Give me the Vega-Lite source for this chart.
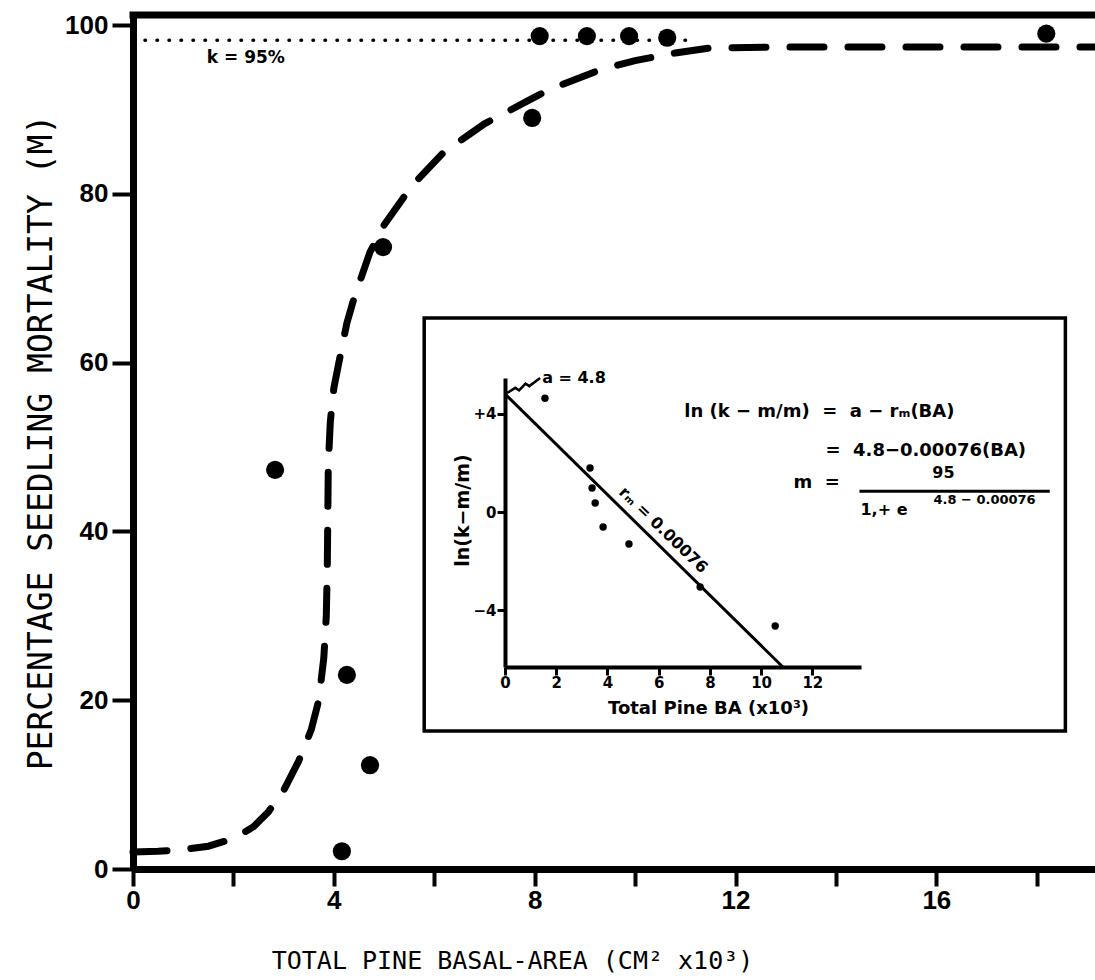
{
  "$schema": "https://vega.github.io/schema/vega-lite/v6.json",
  "width": 962,
  "height": 854,
  "autosize": {"type": "none"},
  "padding": {"left": 133, "top": 15, "right": 0, "bottom": 111},
  "background": "white",
  "config": {
    "view": {"stroke": null},
    "axis": {"grid": false, "domainColor": "black", "tickColor": "black", "labelColor": "black", "titleColor": "black"}
  },
  "resolve": {"scale": {"x": "independent", "y": "independent"}, "axis": {"x": "independent", "y": "independent"}},
  "layer": [
    {
      "layer": [
        {
          "data": {"values": [{"x": 0, "x2": 19.16, "y": 101.2}]},
          "mark": {"type": "rule", "strokeWidth": 7, "color": "black", "strokeCap": "square"},
          "encoding": {
            "x": {
              "field": "x", "type": "quantitative",
              "scale": {"domain": [0, 19.16], "nice": false, "zero": false},
              "axis": {
                "values": [0, 2, 4, 6, 8, 10, 12, 14, 16, 18],
                "labelExpr": "datum.value % 4 === 0 ? datum.label : ''",
                "tickSize": 17, "tickWidth": 4, "domainWidth": 7,
                "labelFont": "Liberation Sans", "labelFontSize": 26, "labelFontWeight": "bold",
                "labelPadding": 1, "labelFlush": false, "labelOverlap": false,
                "title": "TOTAL PINE BASAL-AREA (CM² x10³)",
                "titleFont": "DejaVu Sans Mono", "titleFontSize": 25, "titleFontWeight": "normal",
                "titleX": 379, "titleY": 99, "titleBaseline": "alphabetic", "titleAlign": "center"
              }
            },
            "x2": {"field": "x2"},
            "y": {
              "field": "y", "type": "quantitative",
              "scale": {"domain": [0, 101.2], "nice": false, "zero": false},
              "axis": {
                "values": [0, 20, 40, 60, 80, 100],
                "tickSize": 21, "tickWidth": 4, "domainWidth": 7,
                "labelFont": "Liberation Sans", "labelFontSize": 26, "labelFontWeight": "bold",
                "labelPadding": 4, "labelFlush": false, "labelOverlap": false,
                "title": "PERCENTAGE SEEDLING MORTALITY (M)",
                "titleFont": "DejaVu Sans Mono", "titleFontSize": 33, "titleFontWeight": "normal",
                "titleX": -92, "titleY": 427, "titleBaseline": "middle", "titleAlign": "center"
              }
            }
          }
        },
        {
          "data": {"values": [{"x": 0, "x2": 11.2, "y": 98.2}]},
          "mark": {"type": "rule", "strokeWidth": 3.5, "color": "black", "strokeDash": [0.5, 11.5], "strokeCap": "round"},
          "encoding": {
            "x": {"field": "x", "type": "quantitative"},
            "x2": {"field": "x2"},
            "y": {"field": "y", "type": "quantitative"}
          }
        },
        {
          "data": {"values": [
            {"x": 0.0, "y": 2.0}, {"x": 0.5, "y": 2.1}, {"x": 1.0, "y": 2.3}, {"x": 1.5, "y": 2.7},
            {"x": 2.0, "y": 3.6}, {"x": 2.4, "y": 5.0}, {"x": 2.7, "y": 6.8}, {"x": 3.0, "y": 9.3},
            {"x": 3.3, "y": 12.8}, {"x": 3.55, "y": 16.5}, {"x": 3.7, "y": 20.0}, {"x": 3.8, "y": 25.0},
            {"x": 3.85, "y": 30.0}, {"x": 3.87, "y": 36.0}, {"x": 3.88, "y": 42.0}, {"x": 3.89, "y": 48.0},
            {"x": 3.93, "y": 53.0}, {"x": 4.0, "y": 57.0}, {"x": 4.1, "y": 60.0}, {"x": 4.26, "y": 64.7},
            {"x": 4.4, "y": 67.6}, {"x": 4.72, "y": 73.1}, {"x": 5.0, "y": 76.3}, {"x": 5.56, "y": 81.0},
            {"x": 6.2, "y": 85.0}, {"x": 7.0, "y": 88.3}, {"x": 7.85, "y": 91.0}, {"x": 8.3, "y": 92.4},
            {"x": 9.3, "y": 94.7}, {"x": 10.0, "y": 95.8}, {"x": 10.8, "y": 96.7}, {"x": 11.5, "y": 97.3},
            {"x": 13.0, "y": 97.4}, {"x": 16.0, "y": 97.4}, {"x": 19.16, "y": 97.4}
          ]},
          "mark": {"type": "line", "strokeWidth": 7, "color": "black", "strokeDash": [34, 24], "strokeCap": "round"},
          "encoding": {
            "x": {"field": "x", "type": "quantitative"},
            "y": {"field": "y", "type": "quantitative"}
          }
        },
        {
          "data": {"values": [
            {"x": 2.83, "y": 47.3}, {"x": 4.16, "y": 2.1}, {"x": 4.26, "y": 23.0}, {"x": 4.72, "y": 12.3},
            {"x": 4.98, "y": 73.7}, {"x": 7.95, "y": 89.0}, {"x": 8.1, "y": 98.7}, {"x": 9.04, "y": 98.7},
            {"x": 9.88, "y": 98.7}, {"x": 10.64, "y": 98.5}, {"x": 18.19, "y": 99.0}
          ]},
          "mark": {"type": "point", "filled": true, "size": 330, "color": "black", "opacity": 1},
          "encoding": {
            "x": {"field": "x", "type": "quantitative"},
            "y": {"field": "y", "type": "quantitative"}
          }
        },
        {
          "data": {"values": [{"x": 1.47, "y": 96.1, "label": "k = 95%"}]},
          "mark": {"type": "text", "font": "DejaVu Sans", "fontWeight": "bold", "fontSize": 17, "align": "left", "baseline": "middle", "color": "black"},
          "encoding": {
            "x": {"field": "x", "type": "quantitative"},
            "y": {"field": "y", "type": "quantitative"},
            "text": {"field": "label"}
          }
        },
        {
          "data": {"values": [{"x": 5.8, "x2": 18.57, "y": 65.3, "y2": 16.35}]},
          "mark": {"type": "rect", "fill": "white", "stroke": "black", "strokeWidth": 3.5},
          "encoding": {
            "x": {"field": "x", "type": "quantitative"},
            "x2": {"field": "x2"},
            "y": {"field": "y", "type": "quantitative"},
            "y2": {"field": "y2"}
          }
        }
      ]
    },
    {
      "layer": [
        {
          "data": {"values": [{"x": 0, "y": 4.8, "x2": 10.85, "y2": -6.3}]},
          "mark": {"type": "rule", "strokeWidth": 3, "color": "black"},
          "encoding": {
            "x": {
              "field": "x", "type": "quantitative",
              "scale": {"domain": [0, 13.9], "range": [372, 728], "nice": false, "zero": false},
              "axis": {
                "orient": "bottom", "offset": -202, "zindex": 2,
                "values": [0, 2, 4, 6, 8, 10, 12], "format": "d",
                "tickSize": 8, "tickWidth": 3, "domainWidth": 4,
                "labelFont": "DejaVu Sans", "labelFontSize": 15, "labelFontWeight": "bold",
                "labelPadding": 0, "labelFlush": false, "labelOverlap": false,
                "title": "Total  Pine  BA (x10³)",
                "titleFont": "DejaVu Sans", "titleFontSize": 18, "titleFontWeight": "bold",
                "titleX": 575, "titleY": 41, "titleBaseline": "middle", "titleAlign": "center"
              }
            },
            "x2": {"field": "x2"},
            "y": {
              "field": "y", "type": "quantitative",
              "scale": {"domain": [-6.3, 5.45], "range": [652, 363], "nice": false, "zero": false},
              "axis": {
                "orient": "left", "offset": -372, "zindex": 2,
                "values": [-4, 0, 4], "format": "d",
                "labelExpr": "datum.value > 0 ? '+' + datum.label : datum.label",
                "tickSize": 8, "tickWidth": 3, "domainWidth": 4,
                "labelFont": "DejaVu Sans", "labelFontSize": 15, "labelFontWeight": "bold",
                "labelPadding": 1, "labelFlush": false, "labelOverlap": false,
                "title": "ln(k−m/m)",
                "titleFont": "DejaVu Sans", "titleFontSize": 19, "titleFontWeight": "bold",
                "titleX": -43, "titleY": 495, "titleBaseline": "middle", "titleAlign": "center"
              }
            },
            "y2": {"field": "y2"}
          }
        },
        {
          "data": {"values": [
            {"x": 1.56, "y": 4.63}, {"x": 3.32, "y": 1.79}, {"x": 3.4, "y": 0.98}, {"x": 3.52, "y": 0.37},
            {"x": 3.83, "y": -0.61}, {"x": 4.84, "y": -1.3}, {"x": 7.62, "y": -3.05}, {"x": 10.55, "y": -4.63}
          ]},
          "mark": {"type": "point", "filled": true, "size": 55, "color": "black", "opacity": 1},
          "encoding": {
            "x": {"field": "x", "type": "quantitative"},
            "y": {"field": "y", "type": "quantitative"}
          }
        },
        {
          "data": {"values": [
            {"x": 0.08, "y": 4.84}, {"x": 0.4, "y": 5.05}, {"x": 0.55, "y": 4.95}, {"x": 0.8, "y": 5.22},
            {"x": 0.95, "y": 5.12}, {"x": 1.37, "y": 5.45}
          ]},
          "mark": {"type": "line", "strokeWidth": 2.5, "color": "black"},
          "encoding": {
            "x": {"field": "x", "type": "quantitative"},
            "y": {"field": "y", "type": "quantitative"}
          }
        },
        {
          "data": {"values": [{"x": 13.84, "x2": 21.27, "y": 0.85}]},
          "mark": {"type": "rule", "strokeWidth": 3, "color": "black"},
          "encoding": {
            "x": {"field": "x", "type": "quantitative"},
            "x2": {"field": "x2"},
            "y": {"field": "y", "type": "quantitative"}
          }
        },
        {
          "data": {"values": [
            {"x": 7.0, "y": 4.07, "label": "ln\u00a0(k\u00a0−\u00a0m/m)\u00a0\u00a0=\u00a0\u00a0a\u00a0−\u00a0rₘ(BA)"},
            {"x": 12.51, "y": 2.48, "label": "=\u00a0\u00a04.8−0.00076(BA)"},
            {"x": 11.26, "y": 1.18, "label": "m\u00a0\u00a0="}
          ]},
          "mark": {"type": "text", "font": "DejaVu Sans", "fontWeight": "bold", "fontSize": 18, "align": "left", "baseline": "middle", "color": "black"},
          "encoding": {
            "x": {"field": "x", "type": "quantitative"},
            "y": {"field": "y", "type": "quantitative"},
            "text": {"field": "label"}
          }
        },
        {
          "data": {"values": [
            {"x": 1.45, "y": 5.45, "label": "a = 4.8"},
            {"x": 13.88, "y": 0.08, "label": "1,+ e"}
          ]},
          "mark": {"type": "text", "font": "DejaVu Sans", "fontWeight": "bold", "fontSize": 16, "align": "left", "baseline": "middle", "color": "black"},
          "encoding": {
            "x": {"field": "x", "type": "quantitative"},
            "y": {"field": "y", "type": "quantitative"},
            "text": {"field": "label"}
          }
        },
        {
          "data": {"values": [{"x": 17.12, "y": 1.59, "label": "95"}]},
          "mark": {"type": "text", "font": "DejaVu Sans", "fontWeight": "bold", "fontSize": 16, "align": "center", "baseline": "middle", "color": "black"},
          "encoding": {
            "x": {"field": "x", "type": "quantitative"},
            "y": {"field": "y", "type": "quantitative"},
            "text": {"field": "label"}
          }
        },
        {
          "data": {"values": [{"x": 16.73, "y": 0.49, "label": "4.8 − 0.00076"}]},
          "mark": {"type": "text", "font": "DejaVu Sans", "fontWeight": "bold", "fontSize": 13, "align": "left", "baseline": "middle", "color": "black"},
          "encoding": {
            "x": {"field": "x", "type": "quantitative"},
            "y": {"field": "y", "type": "quantitative"},
            "text": {"field": "label"}
          }
        },
        {
          "data": {"values": [{"x": 6.18, "y": -0.73, "label": "rₘ = 0.00076"}]},
          "mark": {"type": "text", "font": "DejaVu Sans", "fontWeight": "bold", "fontSize": 16, "align": "center", "baseline": "middle", "angle": 44, "color": "black"},
          "encoding": {
            "x": {"field": "x", "type": "quantitative"},
            "y": {"field": "y", "type": "quantitative"},
            "text": {"field": "label"}
          }
        }
      ]
    }
  ]
}
